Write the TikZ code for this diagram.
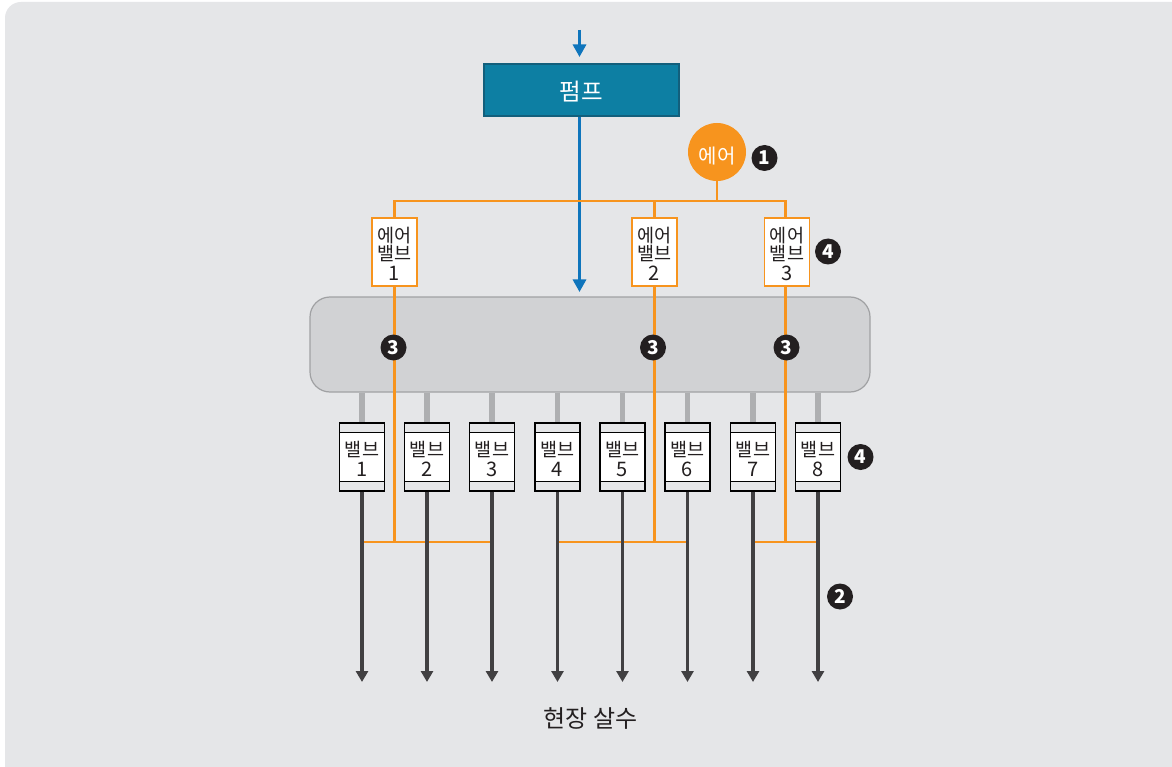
\documentclass[tikz,border=0pt]{standalone}
\usepackage{fontspec}
\setmainfont{Noto Sans CJK KR}
\usetikzlibrary{arrows.meta}
\definecolor{panelc}{HTML}{E5E6E8}
\definecolor{tankc}{HTML}{D1D2D4}
\definecolor{tankline}{HTML}{A0A1A3}
\definecolor{pipec}{HTML}{AEAFB1}
\definecolor{pumpc}{HTML}{0D7FA3}
\definecolor{pumpline}{HTML}{125F7C}
\definecolor{bluec}{HTML}{0F75BC}
\definecolor{orangec}{HTML}{F7941E}
\definecolor{darkc}{HTML}{414042}
\definecolor{inkc}{HTML}{231F20}
\newcommand{\numtxt}[1]{{\fontsize{20}{21}\selectfont #1}}
\tikzset{
  x=1pt,y=-1pt,
  txt/.style={text=inkc,font=\fontsize{18.5}{19}\selectfont,align=center,inner sep=0pt},
  airvalve/.style={txt,draw=orangec,line width=1.7pt,fill=white,minimum width=45pt,minimum height=68pt},
  fieldvalve/.style={txt,draw=black,line width=1.2pt,fill=white,minimum width=45pt,minimum height=68pt,
    path picture={
      \fill[panelc] (path picture bounding box.north west) rectangle ([yshift=-9.5pt]path picture bounding box.north east);
      \fill[panelc] (path picture bounding box.south west) rectangle ([yshift=9.5pt]path picture bounding box.south east);
      \draw[black,line width=1.2pt] ([yshift=-9.5pt]path picture bounding box.north west) -- ([yshift=-9.5pt]path picture bounding box.north east);
      \draw[black,line width=1.2pt] ([yshift=9.5pt]path picture bounding box.south west) -- ([yshift=9.5pt]path picture bounding box.south east);
    }},
  badge/.style={circle,fill=inkc,text=white,minimum size=26pt,inner sep=0pt,font=\fontsize{19}{19}\selectfont\bfseries},
  airline/.style={draw=orangec,line width=2.4pt},
  waterin/.style={draw=bluec,line width=3pt,-{Triangle[width=13pt,length=12.5pt]}},
  waterout/.style={draw=darkc,line width=3.6pt,-{Triangle[width=12pt,length=11pt]}},
  feedpipe/.style={draw=pipec,line width=5.5pt},
}
\begin{document}
\begin{tikzpicture}
\useasboundingbox (0,0) rectangle (1172,767);
\fill[white] (0,0) rectangle (1172,767);
\fill[panelc,rounded corners=16pt] (5,2) rectangle (1200,800);

% tank
\node[draw=tankline,line width=1.2pt,fill=tankc,rounded corners=20pt,minimum width=560pt,minimum height=95pt,inner sep=0pt] (tank) at (590,344.5) {};

% pump and water inlet
\coordinate (inlet) at (579.5,30);
\coordinate (pumptop) at (579.5,57);
\coordinate (tankin) at (579.5,292);
\node[draw=pumpline,line width=1.2pt,fill=pumpc,text=white,font=\fontsize{23.5}{25}\selectfont,minimum width=195pt,minimum height=52pt,inner sep=0pt] (pump) at (581.5,90) {\rule{0pt}{23pt}펌프};
\draw[waterin] (inlet) -- (pumptop);
\draw[waterin] (pump.south -| tankin) -- (tankin);

% air
\node[circle,fill=orangec,text=white,font=\fontsize{20}{22}\selectfont,minimum size=58pt,inner sep=0pt] (air) at (717,152) {\rule{0pt}{24pt}에어};
\node[airvalve] (av1) at (394.5,252) {\rule{0pt}{19pt}에어\\[-1pt]밸브\\[1pt]\numtxt{1}};
\node[airvalve] (av2) at (654.5,252) {\rule{0pt}{19pt}에어\\[-1pt]밸브\\[1pt]\numtxt{2}};
\node[airvalve] (av3) at (787,252) {\rule{0pt}{19pt}에어\\[-1pt]밸브\\[1pt]\numtxt{3}};
\coordinate (airbus) at (717,201);
\coordinate (bus1) at (394.5,201);
\coordinate (bus2) at (654.5,201);
\coordinate (bus3) at (785.5,201);

% field valves
\foreach \n/\x in {1/362,2/427,3/492,4/557.5,5/622.5,6/687.5,7/753,8/818}{
  \node[fieldvalve] (v\n) at (\x,457) {\rule{0pt}{19pt}밸브\\[1pt]\numtxt{\n}};
  \coordinate (o\n) at (\x,682);
  \coordinate (j\n) at (\x,542);
  \draw[feedpipe] (tank.south -| v\n) -- (v\n.north);
}
\coordinate (d1) at (394.5,542);
\coordinate (d2) at (654.5,542);
\coordinate (d3) at (785.5,542);

% air lines
\draw[airline] (air.south) -- (airbus);
\draw[airline] (av1.north -| bus1) -- (bus1) -- (bus3) -- (av3.north -| bus3);
\draw[airline] (bus2) -- (av2.north);
\draw[airline] (av1.south -| d1) -- (d1);
\draw[airline] (av2.south) -- (d2);
\draw[airline] (av3.south -| d3) -- (d3);
\draw[airline] (j1) -- (j3);
\draw[airline] (j4) -- (j6);
\draw[airline] (j7) -- (j8);

% outlets, over the air lines
\foreach \n in {1,...,8}{
  \draw[waterout] (v\n.south) -- (o\n);
}

% badges
\node[badge] (b1) at (764.5,158) {1};
\node[badge] (b2) at (840,596.5) {2};
\node[badge] (b3a) at (393.5,347.5) {3};
\node[badge] (b3b) at (653,347.5) {3};
\node[badge] (b3c) at (786.5,347.5) {3};
\node[badge] (b4a) at (828,251.5) {4};
\node[badge] (b4b) at (860.5,457) {4};

\node[txt,font=\fontsize{24}{26}\selectfont] (field) at (590.5,718.5) {현장 살수};
\end{tikzpicture}
\end{document}
